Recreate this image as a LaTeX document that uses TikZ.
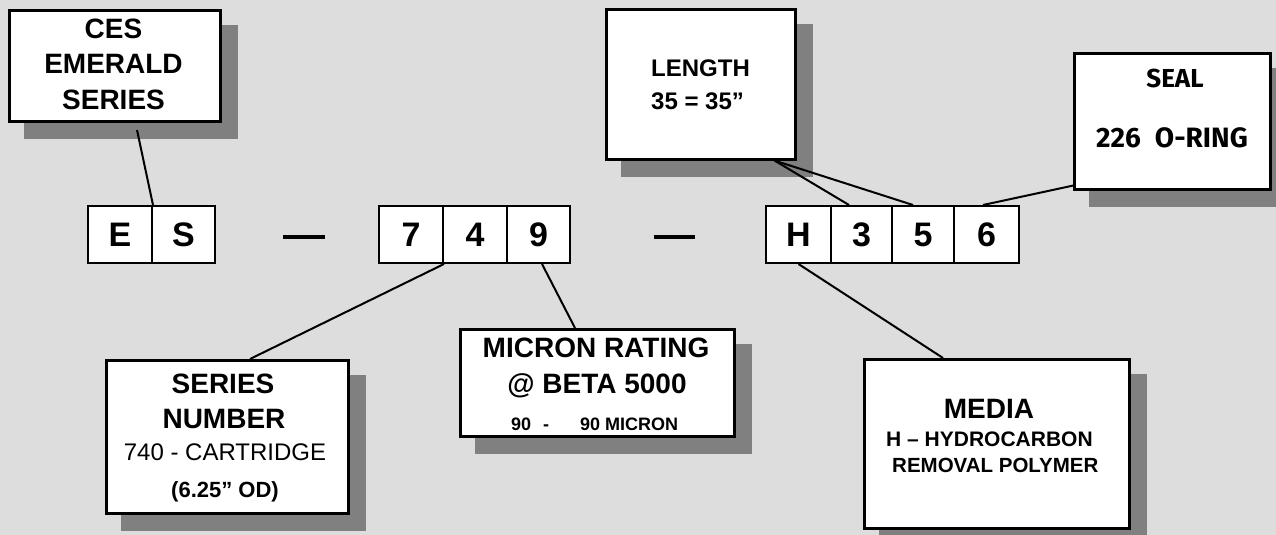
\documentclass[tikz,border=0pt]{standalone}
\usepackage{fontspec}
\setmainfont{Liberation Sans}
\newfontfamily\sealfont{Fira Sans}
\usetikzlibrary{backgrounds}
\definecolor{bg}{HTML}{DDDDDD}
\definecolor{shad}{HTML}{808080}
\tikzset{
  infobox/.style={draw=black, fill=white, line width=2.6pt, rectangle, inner sep=0pt, anchor=north west},
  cell/.style={draw=black, fill=white, line width=2pt, rectangle, inner sep=0pt, minimum height=57pt, font=\bfseries\fontsize{34}{34}\selectfont},
  lbl/.style={inner sep=0pt, anchor=base},
  lblw/.style={inner sep=0pt, anchor=base west},
  conn/.style={line width=2pt, draw=black},
  dashbar/.style={line width=3.5pt, draw=black},
}
\newcommand{\fsz}[1]{\fontsize{#1}{#1}\selectfont}
\begin{document}
\begin{tikzpicture}[x=1pt,y=-1pt]
\useasboundingbox (0,0) rectangle (1276,535);

% info boxes
\node[infobox, minimum width=211pt, minimum height=111pt] (ces) at (8,9) {};
\node[infobox, minimum width=189pt, minimum height=150pt] (length) at (605,8) {};
\node[infobox, minimum width=196pt, minimum height=136pt] (seal) at (1073,52) {};
\node[infobox, minimum width=242pt, minimum height=153pt] (series) at (105,359) {};
\node[infobox, minimum width=274pt, minimum height=107pt] (micron) at (459,328) {};
\node[infobox, minimum width=265pt, minimum height=169pt] (media) at (863,358) {};

\begin{scope}[on background layer]
  \fill[bg] (0,0) rectangle (1276,535);
  \foreach \b in {ces,length,seal,series,micron,media}{
    \fill[shad] ([shift={(16pt,-16pt)}]\b.north west) rectangle ([shift={(16pt,-16pt)}]\b.south east);
  }
\end{scope}

% code cells
\node[cell, minimum width=64pt] (ce) at (120,234.5) {E};
\node[cell, minimum width=63pt] (cs) at (183.5,234.5) {S};
\node[cell, minimum width=64pt] (c7) at (411,234.5) {7};
\node[cell, minimum width=64pt] (c4) at (475,234.5) {4};
\node[cell, minimum width=63pt] (c9) at (538.5,234.5) {9};
\node[cell, minimum width=65pt] (ch) at (798.5,234.5) {H};
\node[cell, minimum width=61pt] (c3) at (861.5,234.5) {3};
\node[cell, minimum width=62pt] (c5) at (923,234.5) {5};
\node[cell, minimum width=65pt] (c6) at (986.5,234.5) {6};

% dashes
\coordinate (d1a) at (283,237); \coordinate (d1b) at (325,237);
\coordinate (d2a) at (654,237); \coordinate (d2b) at (695,237);
\draw[dashbar] (d1a) -- (d1b);
\draw[dashbar] (d2a) -- (d2b);

% texts
\node[lbl, font=\bfseries\fsz{28}] (t1) at (113.5,39) {CES};
\node[lbl, font=\bfseries\fsz{28}] (t2) at (113.5,74) {EMERALD};
\node[lbl, font=\bfseries\fsz{28}] (t3) at (113.5,109) {SERIES};

\node[lblw, font=\bfseries\fsz{24}] (t4) at (651,76) {LENGTH};
\node[lblw, font=\bfseries\fsz{24}] (t5) at (651,109) {35 = 35”};

\node[lbl, font=\sealfont\bfseries\fsz{26}] (t6) at (1175,87) {SEAL};
\node[lbl, font=\sealfont\bfseries\fsz{28}] (t7) at (1172,147) {226\hspace{0.5em}O-RING};

\node[lbl, font=\bfseries\fsz{28}] (t8) at (223,393) {SERIES};
\node[lbl, font=\bfseries\fsz{28}] (t9) at (224,428) {NUMBER};
\node[lbl, font=\fsz{24}] (t10) at (225,460) {740 - CARTRIDGE};
\node[lbl, font=\bfseries\fsz{22}] (t11) at (225,497) {(6.25” OD)};

\node[lbl, font=\bfseries\fsz{28}] (t12) at (596,357) {MICRON RATING};
\node[lbl, font=\bfseries\fsz{28}] (t13) at (597,393) {@ BETA 5000};
\node[lblw, font=\bfseries\fsz{18}] (t14) at (511,430) {90\hspace{12pt}-\hspace{31pt}90 MICRON};

\node[lbl, font=\bfseries\fsz{28}] (t15) at (989,418) {MEDIA};
\node[lblw, font=\bfseries\fsz{21}] (t16) at (886,446) {H – HYDROCARBON};
\node[lblw, font=\bfseries\fsz{20.5}] (t17) at (892,472) {REMOVAL POLYMER};

% connectors
\coordinate (cesfoot) at (137,130);
\draw[conn] (cesfoot) -- (ce.north east);
\draw[conn] (c7.south east) -- ([xshift=145pt]series.north west);
\draw[conn] ([xshift=3.5pt]c9.south) -- ([xshift=116pt]micron.north west);
\draw[conn] ([xshift=-22pt]length.south east) -- ([xshift=-12.5pt]c3.north);
\draw[conn] ([xshift=-22pt]length.south east) -- ([xshift=-10pt]c5.north);
\draw[conn] ([xshift=-3.5pt]c6.north) -- ([yshift=5pt]seal.south west);
\draw[conn] (ch.south) -- ([xshift=80pt]media.north west);
\end{tikzpicture}
\end{document}
